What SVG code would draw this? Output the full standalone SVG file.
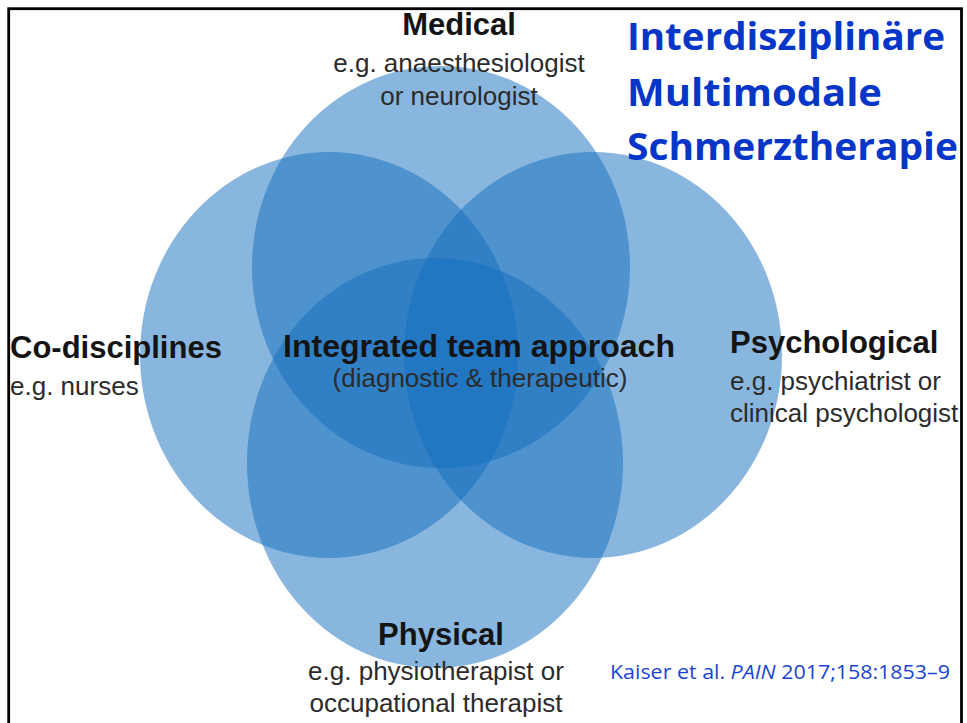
<svg xmlns="http://www.w3.org/2000/svg" width="967" height="723" viewBox="0 0 967 723">
  <style>
    .disc { fill: #146ebe; fill-opacity: 0.5; }
    .head { font-family: "Liberation Sans", Arial, sans-serif; font-weight: bold; font-size: 31px; fill: #141414; }
    .sub { font-family: "Liberation Sans", Arial, sans-serif; font-size: 26px; fill: #2b2b2b; }
    .title { font-family: "Open Sans", "Noto Sans", sans-serif; font-weight: bold; font-size: 38px; fill: #0536c8; }
    .cite { font-family: "Open Sans", "Noto Sans", sans-serif; font-size: 19.5px; fill: #1a44d0; }
  </style>

  <rect x="0" y="0" width="967" height="723" fill="#ffffff"/>

  <!-- four overlapping discipline discs -->
  <g id="medical">
    <ellipse class="disc" cx="441" cy="267" rx="189" ry="201"/>
    <text class="head" x="459" y="35" text-anchor="middle">Medical</text>
    <text class="sub" x="459" y="72" text-anchor="middle">e.g. anaesthesiologist</text>
    <text class="sub" x="459" y="105" text-anchor="middle">or neurologist</text>
  </g>

  <g id="co-disciplines">
    <ellipse class="disc" cx="329" cy="355" rx="189" ry="203"/>
    <text class="head" x="10" y="358">Co-disciplines</text>
    <text class="sub" x="10" y="395">e.g. nurses</text>
  </g>

  <g id="psychological">
    <ellipse class="disc" cx="593" cy="355" rx="189" ry="203"/>
    <text class="head" x="730" y="353">Psychological</text>
    <text class="sub" x="730" y="390">e.g. psychiatrist or</text>
    <text class="sub" x="730" y="422">clinical psychologist</text>
  </g>

  <g id="physical">
    <ellipse class="disc" cx="435" cy="463" rx="188" ry="205"/>
    <text class="head" x="441" y="645" text-anchor="middle">Physical</text>
    <text class="sub" x="436" y="680" text-anchor="middle">e.g. physiotherapist or</text>
    <text class="sub" x="436" y="712" text-anchor="middle">occupational therapist</text>
  </g>

  <!-- shared centre label -->
  <g id="integrated">
    <text class="head" x="479" y="357" text-anchor="middle" font-size="32" fill="#0f1826" textLength="392" lengthAdjust="spacingAndGlyphs">Integrated team approach</text>
    <text class="sub" x="480" y="387" text-anchor="middle" fill="#1b2638">(diagnostic &amp; therapeutic)</text>
  </g>

  <!-- heading block -->
  <g id="title">
    <text class="title" x="627" y="50" textLength="318" lengthAdjust="spacingAndGlyphs">Interdisziplinäre</text>
    <text class="title" x="627" y="106" textLength="255" lengthAdjust="spacingAndGlyphs">Multimodale</text>
    <text class="title" x="627" y="160" textLength="331" lengthAdjust="spacingAndGlyphs">Schmerztherapie</text>
  </g>

  <g id="citation">
    <text class="cite" x="610" y="679" textLength="340" lengthAdjust="spacingAndGlyphs">Kaiser et al. <tspan font-style="italic">PAIN</tspan> 2017;158:1853–9</text>
  </g>

  <!-- slide frame -->
  <rect x="8.7" y="8.7" width="952.8" height="730" fill="none" stroke="#000000" stroke-width="2.8"/>
</svg>
